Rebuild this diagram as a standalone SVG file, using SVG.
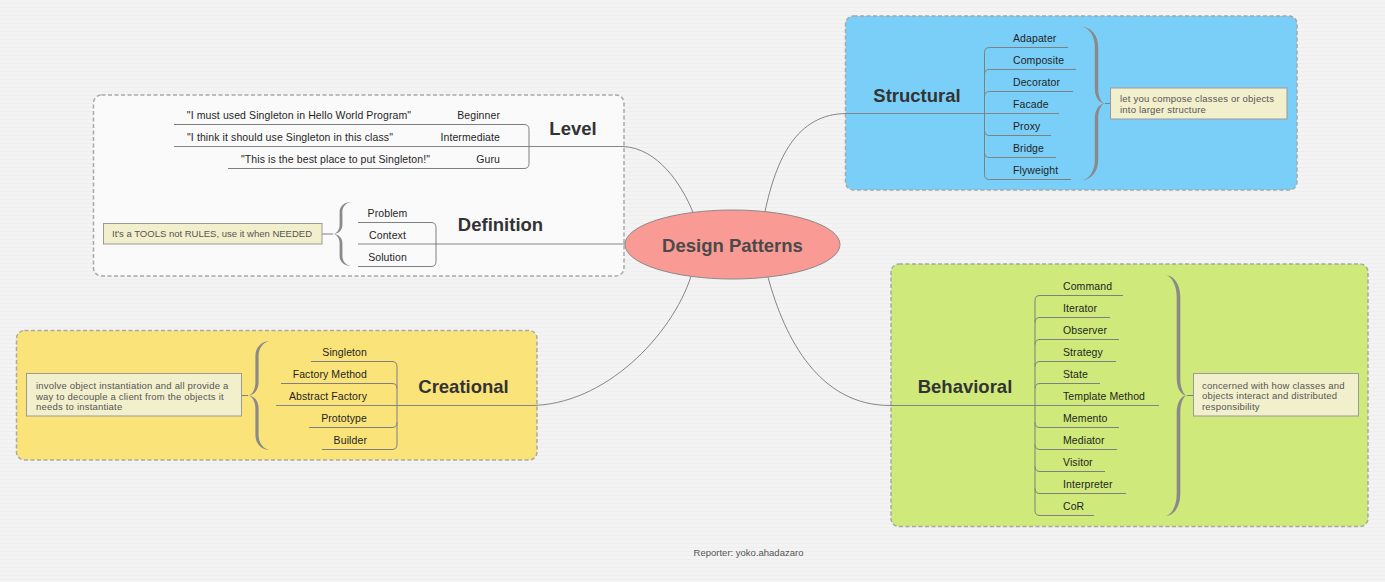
<svg xmlns="http://www.w3.org/2000/svg" width="1385" height="582" viewBox="0 0 1385 582">
<defs>
<pattern id="bg" width="6" height="4" patternUnits="userSpaceOnUse">
<rect width="6" height="4" fill="#f3f3f3"/>
<rect y="3" width="6" height="1" fill="#eeeeee"/>
</pattern>
<style>
.box{stroke:#a8a8a8;stroke-width:1.5;stroke-dasharray:4 2.5}
.tree{fill:none;stroke:#7f7f7f;stroke-width:1}
.conn{fill:none;stroke:#858585;stroke-width:1}
text{font-family:"Liberation Sans",Arial,Helvetica,sans-serif}
.item{font-size:10.5px;fill:#1f1f1f;letter-spacing:0.1px}
.head{font-size:18.5px;font-weight:bold;fill:#333333}
.nrect{fill:#f2efcc;stroke:#9a9a9a;stroke-width:1}
.ntext{font-size:9.5px;fill:#555555}
.wide{letter-spacing:0.2px}
.brace{fill:#8a8a8a}
.foot{font-size:9.5px;fill:#555555}
</style>
</defs>
<rect width="1385" height="582" fill="url(#bg)"/>

<g id="boundaries">
<rect class="box" x="93.5" y="95" width="530.5" height="181" rx="8" fill="#fafafa" fill-opacity="0.85"/>
<rect class="box" x="845.5" y="16" width="451.5" height="174" rx="8" fill="#7acff8"/>
<rect class="box" x="16.5" y="330.5" width="520.5" height="129.5" rx="8" fill="#fae47a"/>
<rect class="box" x="891" y="264" width="477" height="262.5" rx="8" fill="#cfe97a"/>
</g>

<g id="connectors">
<path class="conn" d="M174 146.5 H623 C658 148 682 185 693 212.4"/>
<path class="conn" d="M358 244 H625"/>
<path class="conn" d="M276 405.5 H530 C605 405.5 672 335 691 276.3"/>
<path class="conn" d="M765 211.6 C776 160 796 113.5 847 113.5 H1059"/>
<path class="conn" d="M768 277.1 C785 340 820 405.5 890 405.5 H1159"/>
<path class="tree" d="M174 124.5 H524 Q529 124.5 529 129.5 V163.5 Q529 168.5 524 168.5 H228"/>
<path class="tree" d="M358 222.5 H431 Q436 222.5 436 227.5 V261.5 Q436 266.5 431 266.5 H358"/>
<path class="tree" d="M311 361.5 H392 Q397 361.5 397 366.5 V444.5 Q397 449.5 392 449.5 H322 M281 383.5 H392 Q397 383.5 397 388.5 M309 427.5 H392 Q397 427.5 397 422.5"/>
<path class="tree" d="M1068 47.5 H989.5 Q984.5 47.5 984.5 52.5 V174.5 Q984.5 179.5 989.5 179.5 H1071 M984.5 74.5 Q984.5 69.5 989.5 69.5 H1076 M984.5 96.5 Q984.5 91.5 989.5 91.5 H1073 M984.5 130.5 Q984.5 135.5 989.5 135.5 H1051 M984.5 152.5 Q984.5 157.5 989.5 157.5 H1056"/>
<path class="tree" d="M1123 295.5 H1040 Q1035 295.5 1035 300.5 V510.5 Q1035 515.5 1040 515.5 H1094 M1035 322.5 Q1035 317.5 1040 317.5 H1110 M1035 344.5 Q1035 339.5 1040 339.5 H1119 M1035 366.5 Q1035 361.5 1040 361.5 H1116 M1035 388.5 Q1035 383.5 1040 383.5 H1100 M1035 422.5 Q1035 427.5 1040 427.5 H1119 M1035 444.5 Q1035 449.5 1040 449.5 H1117 M1035 466.5 Q1035 471.5 1040 471.5 H1105 M1035 488.5 Q1035 493.5 1040 493.5 H1126"/>
<path class="tree" d="M322 234 H333 M241.5 395.5 H248 M1105 103.5 H1110 M1187 395.5 H1193"/>
</g>

<g id="root">
<ellipse cx="732.5" cy="244.5" rx="107.5" ry="34.5" fill="#f99a94" stroke="#8a8a8a" stroke-width="1"/>
<text class="head" x="732.5" y="251.5" text-anchor="middle" style="fill:#4a4a4a">Design Patterns</text>
</g>

<g id="level">
<text class="head" x="573" y="134.5" text-anchor="middle">Level</text>
<text class="item" x="299" y="119" text-anchor="middle">"I must used Singleton in Hello World Program"</text>
<text class="item" x="500" y="119" text-anchor="end">Beginner</text>
<text class="item" x="290" y="141" text-anchor="middle">"I think it should use Singleton in this class"</text>
<text class="item" x="500" y="141" text-anchor="end">Intermediate</text>
<text class="item" x="335.5" y="163" text-anchor="middle">"This is the best place to put Singleton!"</text>
<text class="item" x="500" y="163" text-anchor="end">Guru</text>
</g>

<g id="definition">
<text class="head" x="500.5" y="230.5" text-anchor="middle">Definition</text>
<text class="item" x="387.5" y="216.5" text-anchor="middle">Problem</text>
<text class="item" x="387.5" y="238.5" text-anchor="middle">Context</text>
<text class="item" x="387.5" y="260.5" text-anchor="middle">Solution</text>
<path class="brace" d="M351 202 C344.73 202 339.6 206 339.6 212 L339.6 225 C339.6 230.4 335.97 234 333 234 C335.97 234 339.6 237.6 339.6 243 L339.6 256 C339.6 262 344.73 266 351 266 C346.27 265.4 342.4 261.5 342.4 256 L342.4 243 C342.4 238.05 338.64 234 333 234 C338.64 234 342.4 229.95 342.4 225 L342.4 212 C342.4 206.5 346.27 202.6 351 202 Z"/>
<rect class="nrect" x="103.5" y="223.5" width="218.5" height="20.5"/>
<text class="ntext" x="112" y="237.3">It's a TOOLS not RULES, use it when NEEDED</text>
</g>

<g id="creational">
<text class="head" x="463.5" y="393" text-anchor="middle">Creational</text>
<text class="item" x="367" y="356" text-anchor="end">Singleton</text>
<text class="item" x="367" y="378" text-anchor="end">Factory Method</text>
<text class="item" x="367" y="400" text-anchor="end">Abstract Factory</text>
<text class="item" x="367" y="422" text-anchor="end">Prototype</text>
<text class="item" x="367" y="444" text-anchor="end">Builder</text>
<path class="brace" d="M270 341 C261.97 341 255.4 347 255.4 356 L255.4 382.5 C255.4 390.3 251.33 395.5 248 395.5 C251.33 395.5 255.4 400.7 255.4 408.5 L255.4 435 C255.4 444 261.97 450 270 450 C263.73 449.4 258.6 443.25 258.6 435 L258.6 408.5 C258.6 401.35 254.36 395.5 248 395.5 C254.36 395.5 258.6 389.65 258.6 382.5 L258.6 356 C258.6 347.75 263.73 341.6 270 341 Z"/>
<rect class="nrect" x="26.5" y="373.5" width="215" height="42.5"/>
<text class="ntext wide" x="36" y="389">involve object instantiation and all provide a</text>
<text class="ntext wide" x="36" y="399.7">way to decouple a client from the objects it</text>
<text class="ntext wide" x="36" y="410.4">needs to instantiate</text>
</g>

<g id="structural">
<text class="head" x="917" y="101.5" text-anchor="middle">Structural</text>
<text class="item" x="1013" y="42">Adapater</text>
<text class="item" x="1013" y="64">Composite</text>
<text class="item" x="1013" y="86">Decorator</text>
<text class="item" x="1013" y="108">Facade</text>
<text class="item" x="1013" y="130">Proxy</text>
<text class="item" x="1013" y="152">Bridge</text>
<text class="item" x="1013" y="174">Flyweight</text>
<path class="brace" d="M1082 27 C1090.91 27 1098.2 35 1098.2 47 L1098.2 88.5 C1098.2 97.5 1101.940 103.5 1105 103.5 C1101.94 103.5 1098.2 109.5 1098.2 118.5 L1098.2 160 C1098.2 172 1090.91 180 1082 180 C1089.04 179.4 1094.8 171 1094.8 160 L1094.8 118.5 C1094.8 110.25 1098.88 103.5 1105 103.5 C1098.88 103.5 1094.8 96.75 1094.8 88.5 L1094.8 47 C1094.8 36 1089.04 27.6 1082 27 Z"/>
<rect class="nrect" x="1110.5" y="88" width="176.5" height="31"/>
<text class="ntext wide" x="1120" y="102.3">let you compose classes or objects</text>
<text class="ntext wide" x="1120" y="113">into larger structure</text>
</g>

<g id="behavioral">
<text class="head" x="965" y="393" text-anchor="middle">Behavioral</text>
<text class="item" x="1063" y="290">Command</text>
<text class="item" x="1063" y="312">Iterator</text>
<text class="item" x="1063" y="334">Observer</text>
<text class="item" x="1063" y="356">Strategy</text>
<text class="item" x="1063" y="378">State</text>
<text class="item" x="1063" y="400">Template Method</text>
<text class="item" x="1063" y="422">Memento</text>
<text class="item" x="1063" y="444">Mediator</text>
<text class="item" x="1063" y="466">Visitor</text>
<text class="item" x="1063" y="488">Interpreter</text>
<text class="item" x="1063" y="510">CoR</text>
<path class="brace" d="M1165 275 C1173.42 275 1180.3 283.8 1180.3 297 L1180.3 378.5 C1180.3 388.7 1183.99 395.5 1187 395.5 C1183.99 395.5 1180.3 402.3 1180.3 412.5 L1180.3 494 C1180.3 507.2 1173.42 516 1165 516 C1171.44 515.4 1176.7 506.1 1176.7 494 L1176.7 412.5 C1176.7 403.15 1180.82 395.5 1187 395.5 C1180.82 395.5 1176.7 387.85 1176.7 378.5 L1176.7 297 C1176.7 284.9 1171.44 275.6 1165 275 Z"/>
<rect class="nrect" x="1193.5" y="373.5" width="165" height="42.5"/>
<text class="ntext wide" x="1202" y="388.5">concerned with how classes and</text>
<text class="ntext wide" x="1202" y="399.3">objects interact and distributed</text>
<text class="ntext wide" x="1202" y="410">responsibility</text>
</g>

<g id="footer">
<text class="foot" x="748.5" y="555.5" text-anchor="middle">Reporter: yoko.ahadazaro</text>
</g>
</svg>
